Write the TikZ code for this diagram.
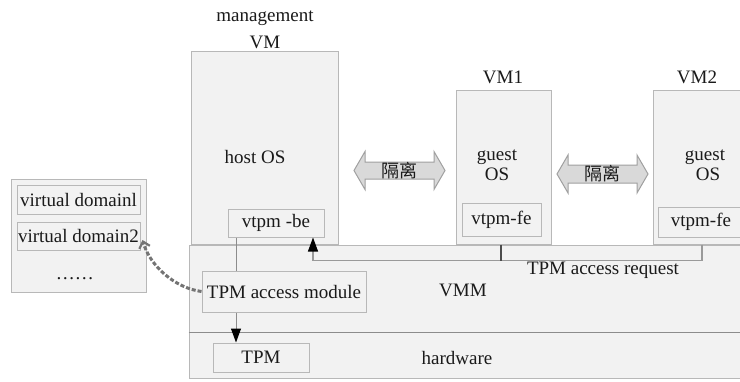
\documentclass[tikz,border=0pt]{standalone}
\usepackage{fontspec}
\setmainfont{Liberation Serif}
\newfontfamily\cjk{Noto Sans CJK SC}
\usetikzlibrary{arrows.meta}
\definecolor{boxc}{HTML}{F2F2F2}
\definecolor{bordc}{HTML}{B8B8B8}
\definecolor{txtc}{HTML}{1A1A1A}
\definecolor{isof}{HTML}{D9D9D9}
\definecolor{isob}{HTML}{A0A0A0}
\definecolor{linec}{HTML}{9A9A9A}
\definecolor{sepc}{HTML}{8C8C8C}
\definecolor{dashc}{HTML}{747474}
\begin{document}
\begin{tikzpicture}[x=1pt,y=-1pt,
  font=\fontsize{19}{20}\selectfont,
  box/.style={draw=bordc, fill=boxc, line width=1pt, inner sep=0pt, text=txtc},
  txt/.style={inner sep=0pt, text=txtc, align=center},
  cjkt/.style={inner sep=0pt, text=txtc, font=\cjk\fontsize{18}{19}\selectfont},
  iso/.style={draw=isob, fill=isof, line width=1pt, line join=miter},
  conn/.style={draw=sepc, line width=1pt},
  req/.style={draw=linec, line width=1.2pt},
  tick/.style={draw=black!70, line width=1.5pt},
  blkarrow/.style={-{Triangle[length=14pt,width=10pt,color=black]}},
  dasharrow/.style={draw=dashc, line width=3pt, dash pattern=on 4pt off 2pt,
    -{Straight Barb[length=6pt,width=11pt,line width=2.2pt]}}
]
\fill[white] (0,0) rectangle (740,381);
\useasboundingbox (0,0) rectangle (740,381);

% left group of virtual domains
\node[box, minimum width=135, minimum height=113] (grp) at (78.5,235.5) {};
\node[box, minimum width=123, minimum height=29] (vd1) at (78.5,199.5) {virtual domainl};
\node[box, minimum width=123, minimum height=28] (vd2) at (78.5,236) {virtual domain2};
\node[txt] (dots) at (75,279) {……};

% VMM and hardware layers
\node[box, minimum width=571, minimum height=87] (vmm) at (474.5,288.5) {};
\node[box, minimum width=571, minimum height=46] (hw) at (474.5,355) {};
\draw[sepc, line width=1.5pt] (vmm.south west) -- (vmm.south east);
\node[txt] (vmmlbl) at (463,290) {VMM};
\node[txt] (hwlbl) at (457,358) {hardware};
\node[txt] (reqlbl) at (603,270) {TPM access request};

% management VM
\node[txt] (mgmtlbl) at (265,18) {management};
\node[txt] (vmlbl) at (265,42) {VM};
\node[box, minimum width=147, minimum height=193] (mgmt) at (264.5,147.5) {};
\node[txt] (hostos) at (255,157) {host OS};
\node[box, minimum width=96, minimum height=28] (vtpmbe) at (276,223) {vtpm -be};

% VM1
\node[txt] (vm1lbl) at (503,77) {VM1};
\node[box, minimum width=95, minimum height=154] (vm1) at (503.5,167) {};
\node[txt] (guest1) at (497,165) {guest\\OS};
\node[box, minimum width=79, minimum height=33] (fe1) at (501.5,219.5) {vtpm-fe};

% VM2
\node[txt] (vm2lbl) at (697,77) {VM2};
\node[box, minimum width=107, minimum height=154] (vm2) at (706.5,167) {};
\node[txt] (guest2) at (705,165) {guest\\\hspace*{6pt}OS};
\node[box, minimum width=102, minimum height=30] (fe2) at (709,222) {};
\node[txt] (fe2lbl) at (701,222) {vtpm-fe};

% isolation arrows
\draw[iso] (354,170.5) -- (365,151.5) -- (365,162) -- (434,162) -- (434,151.5)
  -- (445,170.5) -- (434,189.5) -- (434,179) -- (365,179) -- (365,189.5) -- cycle;
\node[cjkt] (iso1) at (399.5,170.5) {隔离};
\draw[iso] (557,174) -- (568,155) -- (568,165) -- (637,165) -- (637,155)
  -- (648,174) -- (637,193) -- (637,183) -- (568,183) -- (568,193) -- cycle;
\node[cjkt] (iso2) at (602.5,174) {隔离};

% TPM access module and TPM
\node[box, minimum width=164, minimum height=41] (tam) at (284,291.5) {TPM access module};
\node[box, minimum width=96, minimum height=29] (tpm) at (261,357.5) {TPM};

% connectors
\draw[conn] ([xshift=-40pt]vtpmbe.south) -- ([xshift=-40pt]vtpmbe.south |- tam.north);
\draw[conn, blkarrow] ([xshift=-48pt]tam.south) -- ([xshift=-48pt]tam.south |- tpm.north);
\draw[req, blkarrow] ([xshift=-4.5pt]vm2.south) -- ++(0,16) -| ([xshift=37pt]vtpmbe.south);
\draw[tick] ([xshift=-2.5pt]vm1.south) -- ++(0,16);
\draw[dasharrow] (tam.west) .. controls (175,288) and (150,266) .. ([shift={(2pt,-4pt)}]vd2.east);
\end{tikzpicture}
\end{document}
